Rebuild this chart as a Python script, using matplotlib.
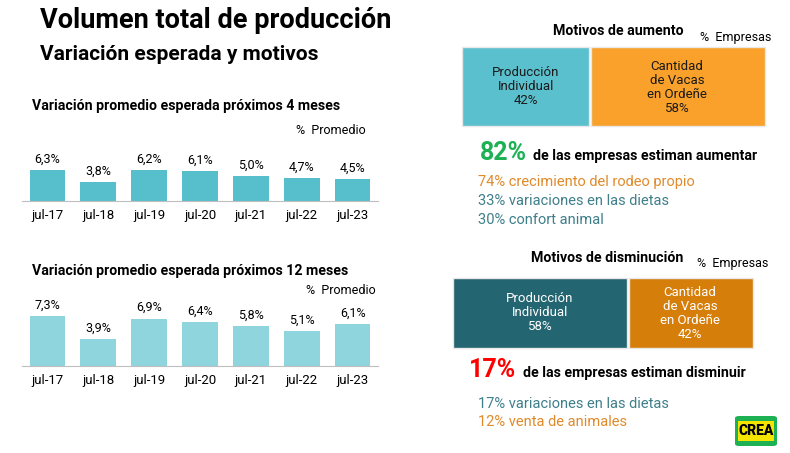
import matplotlib
matplotlib.use("Agg")
import matplotlib.pyplot as plt
from matplotlib.patches import Rectangle, FancyBboxPatch

plt.rcParams['font.family'] = ['Roboto', 'DejaVu Sans']

years = ["jul-17", "jul-18", "jul-19", "jul-20", "jul-21", "jul-22", "jul-23"]
var4 = [6.3, 3.8, 6.2, 6.1, 5.0, 4.7, 4.5]
var12 = [7.3, 3.9, 6.9, 6.4, 5.8, 5.1, 6.1]
aumento = [42, 58]
disminucion = [58, 42]

W, H = 790, 453
fig = plt.figure(figsize=(W/100, H/100), dpi=100)

def T(x, y, s, **kw):
    fig.text(x/W, 1-y/H, s, **kw)

def ax_px(x0, y0, x1, y1):
    return fig.add_axes([x0/W, 1-y1/H, (x1-x0)/W, (y1-y0)/H])

T(40, 20, "Volumen total de producción", fontsize=19.5, fontweight='bold', va='center')
T(40, 54, "Variación esperada y motivos", fontsize=15, fontweight='bold', va='center')

def barchart(vals, y_base, y_top, top_val, color, title, ty):
    ax = ax_px(22, y_top, 378, y_base)
    x = range(len(vals))
    ax.bar(x, vals, width=0.7, color=color)
    ax.set_xlim(-0.5, 6.5)
    ax.set_ylim(0, top_val)
    for i, v in enumerate(vals):
        ax.text(i, v + top_val*0.07, f"{v:.1f}%".replace('.', ','), ha='center', va='bottom', fontsize=9)
    ax.set_xticks(list(x))
    ax.set_xticklabels(years, fontsize=9.5)
    ax.tick_params(axis='x', length=0, pad=6)
    ax.set_yticks([])
    for s in ['top', 'left', 'right']:
        ax.spines[s].set_visible(False)
    ax.spines['bottom'].set_color('#BFBFBF')
    ax.patch.set_alpha(0)
    T(32, ty, title, fontsize=10.2, fontweight='bold', va='center')

barchart(var4, 201, 140, 6.3*61/31, '#56BFCB', "Variación promedio esperada próximos 4 meses", 106)
T(296, 130, "%  Promedio", fontsize=9, va='center')
barchart(var12, 366, 300, 7.3*66/50, '#8FD5DE', "Variación promedio esperada próximos 12 meses", 271)
T(306, 290, "%  Promedio", fontsize=9, va='center')

def rect(x0, y0, x1, y1, c):
    fig.patches.append(Rectangle((x0/W, 1-y1/H), (x1-x0)/W, (y1-y0)/H, transform=fig.transFigure,
                                 facecolor=c, edgecolor='#E8E8E8', lw=1))

# aumento
T(553, 31, "Motivos de aumento", fontsize=10.2, fontweight='bold', va='center')
T(700, 37, "%  Empresas", fontsize=9, va='center')
xa = 462 + (765-462)*aumento[0]/100
rect(462, 47, xa, 126, '#5BC0CE')
rect(xa+2, 47, 765, 126, '#F9A12A')
T((462+xa)/2, 86, f"Producción\nIndividual\n{aumento[0]}%", fontsize=9.5, ha='center', va='center', color='#1a1a1a', linespacing=1.1)
T((xa+765)/2, 88, f"Cantidad\nde Vacas\nen Ordeñe\n{aumento[1]}%", fontsize=9.5, ha='center', va='center', color='#1a1a1a', linespacing=1.1)
T(480, 153, "82%", fontsize=18, fontweight='bold', color='#1DB154', va='center')
T(533, 156, "de las empresas estiman aumentar", fontsize=10.2, fontweight='bold', va='center')
T(478, 182, "74% crecimiento del rodeo propio", fontsize=10.5, color='#E08A2A', va='center')
T(478, 201, "33% variaciones en las dietas", fontsize=10.5, color='#3E7F8A', va='center')
T(478, 220, "30% confort animal", fontsize=10.5, color='#3E7F8A', va='center')

# disminucion
T(531, 258, "Motivos de disminución", fontsize=10.2, fontweight='bold', va='center')
T(697, 264, "%  Empresas", fontsize=9, va='center')
xd = 453 + (753-453)*disminucion[0]/100
rect(453, 278, xd, 348, '#236570')
rect(xd+2, 278, 753, 348, '#D67E0A')
T((453+xd)/2, 313, f"Producción\nIndividual\n{disminucion[0]}%", fontsize=9.5, ha='center', va='center', color='white', linespacing=1.1)
T((xd+753)/2, 313, f"Cantidad\nde Vacas\nen Ordeñe\n{disminucion[1]}%", fontsize=9.5, ha='center', va='center', color='white', linespacing=1.1)
T(469, 370, "17%", fontsize=18, fontweight='bold', color='#FF0000', va='center')
T(523, 373, "de las empresas estiman disminuir", fontsize=10.2, fontweight='bold', va='center')
T(478, 404, "17% variaciones en las dietas", fontsize=10.5, color='#3E7F8A', va='center')
T(478, 422, "12% venta de animales", fontsize=10.5, color='#E08A2A', va='center')

# logo
fig.patches.append(FancyBboxPatch((735/W, 1-446/H), 42/W, 30/H, boxstyle="round,pad=0,rounding_size=0.005",
                                  transform=fig.transFigure, facecolor='#1DB154', edgecolor='none'))
fig.patches.append(Rectangle((738/W, 1-441/H), 36/W, 20/H, transform=fig.transFigure, facecolor='#F5E400', edgecolor='none'))
T(756, 431, "CREA", fontsize=10, fontweight='black', ha='center', va='center', color='black')

fig.savefig("out.png", dpi=100)
